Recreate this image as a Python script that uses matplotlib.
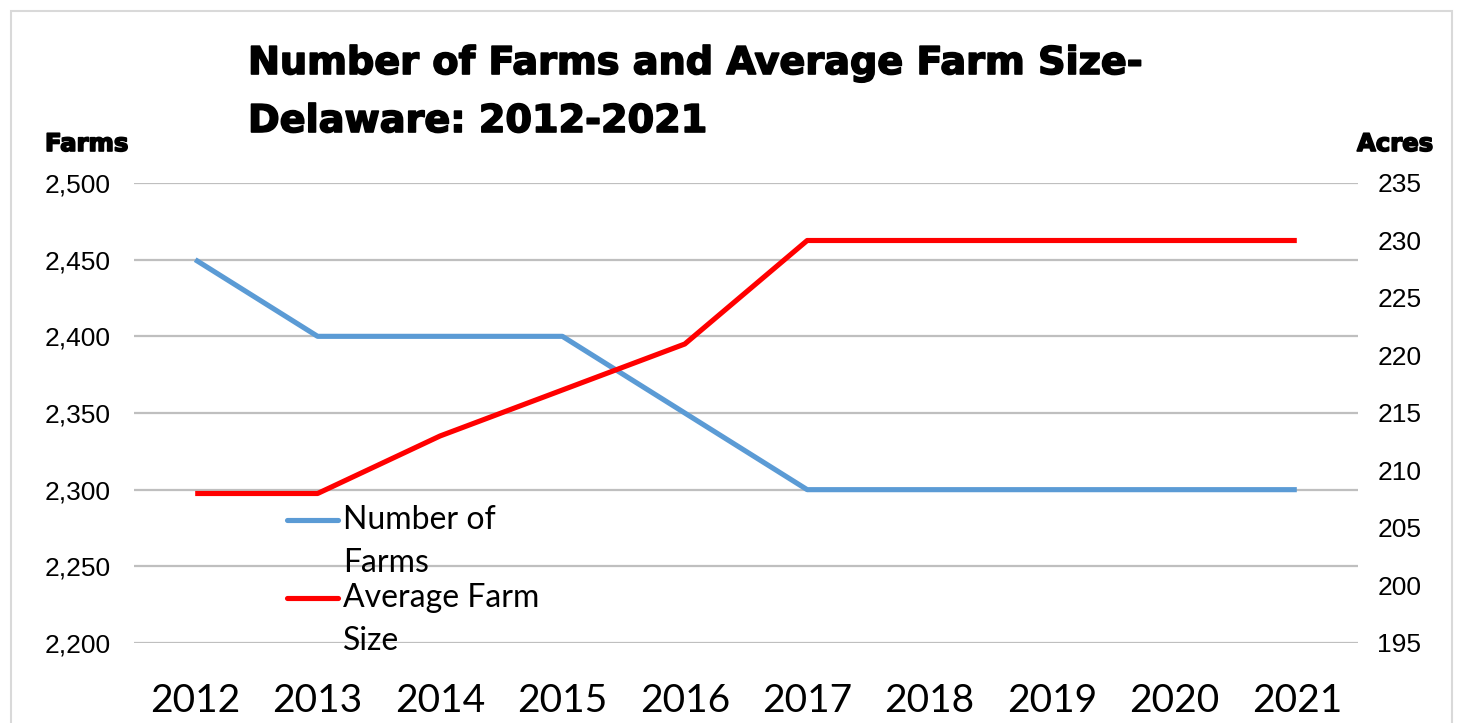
import matplotlib.pyplot as plt
import matplotlib.patheffects as pe
from matplotlib.patches import Rectangle
from matplotlib.lines import Line2D

years = ["2012", "2013", "2014", "2015", "2016", "2017", "2018", "2019", "2020", "2021"]
farms = [2450, 2400, 2400, 2400, 2350, 2300, 2300, 2300, 2300, 2300]
acres = [208, 208, 213, 217, 221, 230, 230, 230, 230, 230]
title_lines = ["Number of Farms and Average Farm Size-", "Delaware: 2012-2021"]

W, H = 1463, 723
blue = "#5B9BD5"
red = "#FF0000"
heavy = [pe.withStroke(linewidth=1.2, foreground="black")]

fig = plt.figure(figsize=(W / 100, H / 100), dpi=100)

# light frame round the chart
fig.patches.append(Rectangle((11 / W, -0.05), (1452 - 11) / W, 1.05 - 11 / H,
                             transform=fig.transFigure, fill=False,
                             edgecolor="#D9D9D9", linewidth=1.5))

ax = fig.add_axes([134 / W, 1 - 643 / H, (1358 - 134) / W, (643 - 183) / H])
ax2 = ax.twinx()

x = list(range(len(years)))
ax.plot(x, farms, color=blue, linewidth=3.7, solid_capstyle="butt", zorder=3)
ax2.plot(x, acres, color=red, linewidth=3.7, solid_capstyle="butt", zorder=3)

ax.set_xlim(-0.5, len(years) - 0.5)
ax.set_ylim(2200, 2500)
ax.set_yticks(range(2200, 2501, 50))
ax.set_yticklabels([f"{v:,}" for v in range(2200, 2501, 50)],
                   fontfamily="Liberation Sans", fontsize=19)
ax2.set_ylim(195, 235)
ax2.set_yticks(range(195, 236, 5))
ax2.set_yticklabels([str(v) for v in range(195, 236, 5)],
                    fontfamily="Liberation Sans", fontsize=19)

ax.set_xticks(x)
ax.set_xticklabels(years, fontfamily="Lato", fontsize=28)
ax.tick_params(axis="x", length=0, pad=29)
ax.tick_params(axis="y", length=0, pad=17)
ax2.tick_params(axis="y", length=0, pad=14)

ax.grid(axis="y", color="#BFBFBF", linewidth=1.6)
ax.set_axisbelow(True)
for a in (ax, ax2):
    for s in a.spines.values():
        s.set_visible(False)

for txt, base in zip(title_lines, [74, 132]):
    fig.text(248 / W, 1 - base / H, txt, fontfamily="DejaVu Sans", fontweight="bold",
             fontsize=27.5, ha="left", va="baseline", path_effects=heavy)
fig.text(45 / W, 1 - 144 / H, "Farms", fontfamily="DejaVu Sans", fontweight="bold",
         fontsize=17.5, ha="left", va="center", path_effects=heavy)
fig.text(1357 / W, 1 - 144 / H, "Acres", fontfamily="DejaVu Sans", fontweight="bold",
         fontsize=17.5, ha="left", va="center", path_effects=heavy)

# legend drawn by hand so each key sits on its first text line
entries = [("Number of", "Farms", blue, 520), ("Average Farm", "Size", red, 598)]
for line1, line2, col, yp in entries:
    fig.lines.append(Line2D([287 / W, 338 / W], [1 - yp / H, 1 - yp / H],
                            transform=fig.transFigure, color=col, linewidth=3.7,
                            solid_capstyle="round"))
    fig.text(343 / W, 1 - yp / H, line1, fontfamily="Lato", fontsize=23,
             ha="left", va="center")
    fig.text(343 / W, 1 - (yp + 43) / H, line2, fontfamily="Lato", fontsize=23,
             ha="left", va="center")

fig.savefig("out.png", dpi=100)
